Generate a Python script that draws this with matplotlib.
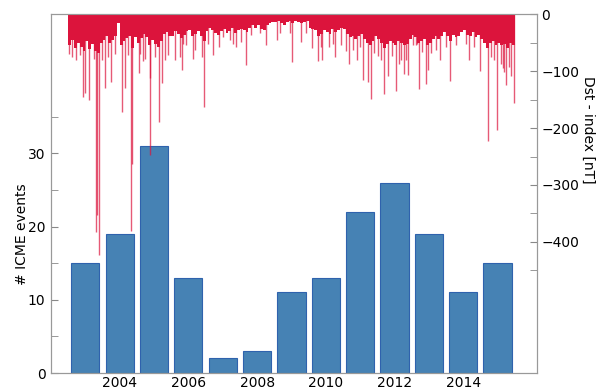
import numpy as np
import matplotlib
matplotlib.use("Agg")
import matplotlib.pyplot as plt
from matplotlib.ticker import FixedLocator

# yearly ICME counts
years = np.arange(2003, 2016)
icme_counts = [15, 19, 31, 13, 2, 3, 11, 13, 22, 26, 19, 11, 15]

# typical monthly depth of the Dst trace (nT), Jan..Dec per year
dst_band = [
    -55, -45, -60, -50, -58, -65, -48, -62, -52, -65, -68, -50,   # 2003
    -45, -38, -50, -45, -38, -15, -55, -48, -42, -38, -60, -40,   # 2004
    -50, -42, -35, -40, -55, -45, -52, -58, -48, -35, -32, -38,   # 2005
    -38, -30, -35, -42, -36, -30, -28, -38, -35, -30, -38, -48,   # 2006
    -30, -25, -28, -34, -36, -30, -27, -34, -30, -25, -34, -28,   # 2007
    -26, -28, -32, -24, -20, -24, -20, -26, -28, -20, -16, -14,   # 2008
    -14, -12, -16, -20, -14, -12, -16, -12, -14, -16, -14, -12,   # 2009
    -24, -26, -28, -38, -35, -28, -32, -35, -26, -32, -28, -24,   # 2010
    -26, -35, -40, -38, -44, -38, -35, -44, -50, -55, -48, -38,   # 2011
    -44, -50, -60, -52, -48, -50, -55, -48, -50, -55, -52, -44,   # 2012
    -36, -40, -50, -48, -44, -55, -50, -44, -38, -44, -38, -32,   # 2013
    -38, -48, -36, -40, -38, -32, -28, -36, -38, -32, -40, -36,   # 2014
    -44, -50, -60, -50, -48, -55, -50, -55, -52, -60, -50, -55,   # 2015
]

# storm minima: time (decimal year) and Dst (nT)
storm_time = [
    2003.01, 2003.10, 2003.22, 2003.35, 2003.42, 2003.49, 2003.61, 2003.74,
    2003.82, 2003.825, 2003.89, 2003.98,
    2004.06, 2004.17, 2004.25, 2004.36, 2004.56, 2004.66, 2004.75, 2004.84,
    2004.86,
    2005.05, 2005.09, 2005.19, 2005.24, 2005.37, 2005.38, 2005.53, 2005.63,
    2005.72, 2005.82, 2005.92,
    2006.11, 2006.26, 2006.31, 2006.34, 2006.44, 2006.63, 2006.68, 2006.89,
    2006.95,
    2007.07, 2007.21, 2007.38, 2007.51, 2007.70, 2007.79, 2007.88,
    2008.04, 2008.19, 2008.33, 2008.58, 2008.77,
    2009.07, 2009.16, 2009.45, 2009.53, 2009.79, 2009.92,
    2010.11, 2010.26, 2010.36, 2010.40, 2010.60, 2010.70, 2010.76, 2010.94,
    2011.08, 2011.19, 2011.28, 2011.40, 2011.51, 2011.59, 2011.72, 2011.82,
    2011.91,
    2012.01, 2012.11, 2012.19, 2012.30, 2012.42, 2012.54, 2012.64, 2012.68,
    2012.77, 2012.83, 2012.88,
    2013.03, 2013.12, 2013.17, 2013.21, 2013.31, 2013.43, 2013.49, 2013.55,
    2013.70, 2013.84, 2013.99,
    2014.13, 2014.28, 2014.57, 2014.66, 2014.81,
    2015.00, 2015.21, 2015.31, 2015.40, 2015.48, 2015.59, 2015.66, 2015.69,
    2015.76, 2015.83, 2015.88, 2015.98,
]
storm_dst = [
    -70, -75, -80, -72, -145, -139, -150, -78,
    -383, -353, -422, -80,
    -130, -75, -119, -70, -172, -130, -72, -380,
    -263,
    -104, -70, -82, -78, -248, -113, -75, -190,
    -121, -81, -72,
    -80, -75, -98, -52, -55, -79, -63, -75,
    -163,
    -52, -72, -58, -40, -46, -53, -58,
    -49, -90, -37, -34, -54,
    -46, -34, -34, -84, -49, -34,
    -60, -82, -57, -81, -58, -52, -75, -55,
    -64, -88, -63, -81, -58, -116, -119, -149,
    -69,
    -73, -81, -140, -109, -73, -135, -87, -80,
    -105, -81, -107,
    -55, -55, -52, -132, -66, -122, -98, -69,
    -63, -80, -57,
    -117, -55, -52, -80, -57,
    -100, -223, -75, -81, -204, -87, -95, -102,
    -125, -93, -108, -156,
]

fig = plt.figure(figsize=(5.96, 3.91), dpi=100)
ax = fig.add_axes([0.0856, 0.046, 0.8154, 0.918])

ax.bar(np.array(years) + 0.5, icme_counts, width=0.82, color="#4682b4",
       edgecolor="#2f62ad", linewidth=0.8)
ax.set_xlim(2002.5, 2016.65)
ax.set_ylim(0, 49)
ax.yaxis.set_major_locator(FixedLocator([0, 10, 20, 30]))
ax.yaxis.set_minor_locator(FixedLocator([5, 15, 25, 35]))
ax.set_xticks(np.arange(2004, 2016, 2) + 0.5)
ax.set_xticklabels([str(y) for y in range(2004, 2016, 2)])
ax.tick_params(axis="x", length=0, pad=2, labelsize=10)
ax.tick_params(axis="y", which="both", direction="in", length=5,
               color="#888888", labelsize=10, pad=4)
ax.set_ylabel("# ICME events", fontsize=10)
ax.yaxis.set_label_coords(-0.046, 0.387)

# Dst index on a twin axis, zero at the top
ax2 = ax.twinx()
month_t = 2003 + (np.arange(len(dst_band)) + 0.5) / 12
ax2.bar(month_t, dst_band, width=1 / 12, color="crimson", linewidth=0)
ax2.vlines(storm_time, storm_dst, 0, color="crimson", linewidth=1.0,
           alpha=0.7)
ax2.set_ylim(-630, 0)
ax2.yaxis.set_major_locator(FixedLocator([0, -100, -200, -300, -400]))
ax2.yaxis.set_minor_locator(FixedLocator([-50, -150, -250, -350, -450]))
ax2.tick_params(axis="y", which="both", direction="in", length=5,
                color="#888888", labelsize=10, pad=3)
ax2.set_ylabel("Dst - index [nT]", fontsize=10, rotation=270, va="bottom")
ax2.yaxis.set_label_coords(1.0905, 0.677)

for a in (ax, ax2):
    for s in a.spines.values():
        s.set_color("#999999")
        s.set_linewidth(0.8)

fig.savefig("out.png", dpi=100)
